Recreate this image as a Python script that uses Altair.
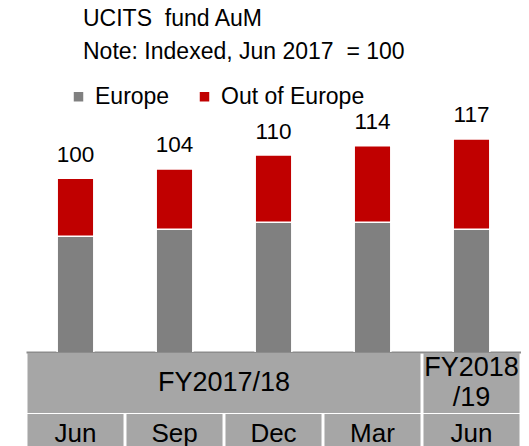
import altair as alt
import pandas as pd

periods = ["Jun 2017", "Sep 2017", "Dec 2017", "Mar 2018", "Jun 2018"]
months = ["Jun", "Sep", "Dec", "Mar", "Jun"]
europe = [75, 78, 81, 81, 78]
out_of_europe = [25, 26, 29, 33, 39]
totals = [100, 104, 110, 114, 117]
series = ["Europe", "Out of Europe"]
colors = ["#808080", "#c00000"]
fy_text = ["FY2017/18", "FY2018\n/19"]
fy_lines = [1, 2]
fy_start = [0, 4]
fy_end = [4, 5]

FONT = "Liberation Sans"
W = 495
CELL = "#a6a6a6"

rows = []
for i, p in enumerate(periods):
    rows.append({"period": p, "series": series[0], "value": europe[i], "order": 0})
    rows.append({"period": p, "series": series[1], "value": out_of_europe[i], "order": 1})
bars_df = pd.DataFrame(rows)
totals_df = pd.DataFrame({"period": periods, "total": totals})

x_enc = alt.X(
    "period:N", sort=periods,
    scale=alt.Scale(paddingInner=0.63, paddingOuter=0.315),
    axis=alt.Axis(labels=False, ticks=False, title=None, domain=True,
                  domainColor="#8c8c8c", domainWidth=2),
)
y_scale = alt.Scale(domain=[25, 146.3], nice=False, zero=False)

bars = alt.Chart(bars_df).mark_bar(clip=True, stroke="white", strokeWidth=1.5).encode(
    x=x_enc,
    y=alt.Y("value:Q", stack="zero", scale=y_scale, axis=None),
    color=alt.Color(
        "series:N",
        scale=alt.Scale(domain=series, range=colors),
        legend=alt.Legend(
            orient="none", legendX=41, legendY=14, direction="horizontal",
            title=None, symbolType="square", symbolSize=90,
            labelFont=FONT, labelFontSize=23, labelColor="black",
            labelOffset=5, columnPadding=23, symbolStrokeWidth=0,
            symbolOpacity=1, padding=0,
        ),
    ),
    order=alt.Order("order:Q"),
)

labels = alt.Chart(totals_df).mark_text(
    dy=-16.5, baseline="alphabetic", fontSize=22.5, font=FONT, color="black"
).encode(
    x=alt.X("period:N", sort=periods),
    y=alt.Y("total:Q", scale=y_scale),
    text=alt.Text("total:Q"),
)

top = alt.layer(bars, labels).properties(
    width=W, height=281,
    title=alt.TitleParams(
        text="UCITS\u00a0 fund AuM",
        subtitle="Note: Indexed, Jun 2017\u00a0 = 100",
        anchor="start", dx=57, font=FONT, fontSize=23, fontWeight="normal",
        color="black", subtitleFont=FONT, subtitleFontSize=23,
        subtitleColor="black", subtitlePadding=10, offset=7,
    ),
)

fy_df = pd.DataFrame({"label": fy_text, "lines": fy_lines, "start": fy_start, "end": fy_end})
fy_df["mid"] = (fy_df["start"] + fy_df["end"]) / 2
xq = alt.Scale(domain=[0, len(periods)], nice=False, zero=False)

fy_cells = alt.Chart(fy_df).mark_rect(color=CELL, xOffset=1.5, x2Offset=-1.5).encode(
    x=alt.X("start:Q", scale=xq, axis=None), x2="end:Q"
)
fy_single = alt.Chart(fy_df).transform_filter("datum.lines == 1").mark_text(
    font=FONT, fontSize=27, color="black", baseline="middle"
).encode(x=alt.X("mid:Q", scale=xq, axis=None), text="label:N")
fy_double = alt.Chart(fy_df).transform_filter("datum.lines == 2").mark_text(
    font=FONT, fontSize=27, color="black", lineBreak="\n", lineHeight=30,
    baseline="middle", dy=-15
).encode(x=alt.X("mid:Q", scale=xq, axis=None), text="label:N")
fy_row = alt.layer(fy_cells, fy_single, fy_double).properties(width=W, height=60)

month_df = pd.DataFrame({"period": periods, "month": months})
xm = alt.X("period:N", sort=periods,
           scale=alt.Scale(paddingInner=0.03, paddingOuter=0.015), axis=None)
month_cells = alt.Chart(month_df).mark_rect(color=CELL).encode(x=xm)
month_text = alt.Chart(month_df).mark_text(
    font=FONT, fontSize=26, color="black", baseline="middle"
).encode(x=xm, text="month:N")
month_row = alt.layer(month_cells, month_text).properties(width=W, height=40)

chart = alt.vconcat(top, fy_row, month_row, spacing=1).properties(
    padding={"left": 18, "top": 0, "right": 0, "bottom": 0},
    background="white",
).configure_view(strokeWidth=0, stroke=None)

chart.save("out.html", embed_options={"renderer": "svg", "actions": False})
